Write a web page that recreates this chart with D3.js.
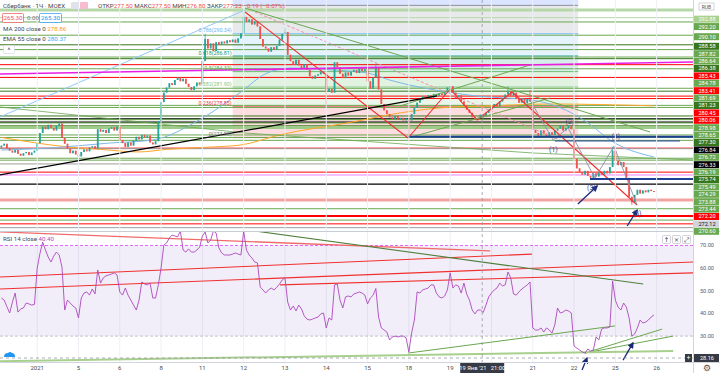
<!DOCTYPE html>
<html>
<head>
<meta charset="utf-8">
<script src="https://cdn.jsdelivr.net/npm/d3@7"></script>
<style>
  body { margin: 0; background: #fff; }
  svg { display: block; font-family: Roboto, "Liberation Sans", sans-serif; }
</style>
</head>
<body>
<svg id="chart"></svg>
<script>
// ---------- data (SBER, 1h, MOEX) ----------
// bar index -> trading day start, label
const dayTicks = [[13, '2021'], [28, '5'], [43, '6'], [58, '8'], [73, '11'], [88, '12'], [103, '13'],
    [118, '14'], [133, '15'], [148, '18'], [163, '19'], [178, '20'], [193, '21'], [208, '22'],
    [223, '25'], [238, '26']];

const firstOpen = 272.3;
const closes = [
    272.6, 272.9, 272.2, 271.8, 271.5, 271.9, 271.3, 271.0, 271.4, 271.6, 271.1, 271.5, 271.8,
    273.0, 274.6, 275.6, 275.2, 275.9, 275.4, 275.0, 275.7, 276.1, 273.8, 272.9, 272.1, 271.4, 271.8, 271.2,
    270.9, 271.6, 272.0, 271.7, 272.3, 272.5, 272.1, 275.2, 274.8, 275.1, 274.6, 275.3, 275.5, 275.0, 275.6,
    273.5, 273.0, 272.4, 273.1, 272.6, 273.4, 274.0, 273.6, 274.3, 273.9, 274.2, 273.1, 272.8, 273.3, 276.5,
    279.5, 281.0, 281.8, 282.5, 282.2, 283.0, 283.4, 282.8, 283.2, 282.4, 281.9, 281.4, 282.0, 282.6, 282.3,
    286.0, 289.5, 288.0, 288.8, 287.6, 289.0, 288.6, 289.1, 288.8, 289.3, 289.0, 289.4, 288.9, 289.6, 290.4,
    293.0, 292.2, 292.6, 291.8, 292.3, 291.5, 289.5, 288.3, 288.0, 287.5, 288.2, 287.8, 288.4, 289.4, 290.3,
    290.6, 287.0, 286.0, 285.4, 286.2, 285.3, 284.8, 285.5, 284.6, 283.6, 283.2, 283.7, 283.9, 284.3, 284.0,
    281.2, 281.6, 281.0, 285.8, 285.0, 284.0, 283.3, 284.2, 283.7, 284.3, 284.6, 284.1, 284.8, 284.4, 284.7,
    282.8, 281.6, 283.4, 285.0, 281.5, 279.2, 278.2, 277.6, 277.1, 276.8, 277.3, 276.7, 277.0, 276.6, 276.9,
    276.6, 277.6, 278.6, 279.4, 279.9, 280.4, 280.1, 280.6, 280.2, 280.8, 280.5, 280.9, 280.6, 281.2, 281.8,
    282.0, 281.0, 280.1, 280.6, 279.6, 279.0, 278.3, 277.8, 277.1, 276.7, 277.0, 277.50, 277.23, 277.8, 278.3,
    278.6, 279.2, 278.8, 279.6, 280.1, 280.7, 281.2, 280.5, 281.0, 280.0, 279.4, 280.0, 279.3, 279.9, 279.6,
    275.1, 274.6, 274.2, 275.0, 274.5, 274.0, 274.7, 274.3, 275.0, 275.3, 275.7, 275.0, 275.4, 275.8, 275.2,
    270.5, 269.0, 268.4, 268.0, 268.6, 267.8, 267.5, 268.2, 267.7, 268.3, 268.0, 268.6, 268.2, 269.2, 271.8,
    270.2, 269.5, 270.0, 269.2, 267.5, 264.5, 263.6, 264.8, 265.6, 265.0, 265.5, 265.2, 265.6, 265.4, 265.3
];
// only the wicks that stand out
const wickHighs = {74: 290.3, 88: 293.8, 103: 291.3, 136: 285.6, 175: 277.5, 184: 282.0, 192: 281.4, 222: 272.4};
const wickLows = {28: 270.4, 118: 279.0, 148: 273.9, 175: 276.8, 229: 263.2};

const rsiValues = [
    46.8, 45.9, 43.0, 40.2, 45.0, 49.0, 40.6, 42.0, 42.4, 44.6, 44.2, 43.7, 44.0,
    60.0, 66.5, 71.5, 68.0, 64.9, 62.7, 65.3, 67.1, 65.8, 60.5, 41.5, 45.9, 44.6, 43.3, 42.4,
    38.0, 46.8, 49.0, 49.5, 48.1, 50.8, 48.6, 59.2, 53.4, 55.7, 56.6, 57.0, 57.4, 57.9, 57.0,
    49.5, 48.1, 51.2, 48.1, 45.9, 43.7, 41.5, 45.9, 53.9, 53.0, 52.6, 53.4, 46.8, 46.8, 52.6,
    60.1, 70.2, 71.1, 73.3, 74.6, 74.2, 73.8, 76.4, 68.0, 67.1, 68.5, 67.1, 67.1, 68.0, 69.3,
    74.2, 76.0, 71.1, 72.4, 76.4, 75.5, 68.9, 66.7, 65.8, 65.8, 65.8, 66.2, 66.7, 66.2, 65.8,
    76.4, 68.0, 65.8, 64.5, 62.7, 62.3, 51.7, 50.4, 49.0, 50.4, 51.2, 50.4, 51.5, 53.0, 54.8,
    55.7, 45.0, 41.5, 43.3, 41.1, 43.7, 42.0, 38.9, 37.5, 37.1, 37.5, 38.0, 38.4, 39.8, 40.2,
    33.6, 38.0, 37.1, 52.6, 53.0, 45.9, 42.4, 47.3, 47.7, 47.3, 48.6, 49.0, 49.5, 49.0, 48.1,
    44.2, 46.8, 48.0, 51.0, 38.4, 33.6, 32.7, 31.8, 28.3, 29.6, 30.0, 29.6, 30.0, 30.0, 29.2,
    23.0, 31.4, 37.1, 49.5, 49.0, 50.4, 50.8, 51.2, 52.6, 52.6, 49.0, 47.3, 46.8, 47.7, 50.4,
    57.9, 51.2, 52.6, 52.1, 49.0, 53.4, 48.6, 45.9, 41.5, 39.8, 41.5, 41.5, 40.4, 43.7, 47.3,
    49.0, 50.4, 51.2, 53.4, 52.1, 52.6, 58.3, 55.7, 48.6, 48.1, 49.5, 50.8, 51.7, 52.6, 53.9,
    33.6, 32.7, 32.7, 33.6, 31.8, 33.6, 32.7, 31.4, 34.9, 42.4, 40.2, 40.6, 41.5, 41.1, 40.2,
    25.6, 24.7, 23.9, 23.0, 22.5, 24.3, 23.4, 23.9, 29.6, 28.3, 33.1, 33.6, 33.6, 34.0, 54.3,
    45.9, 42.8, 41.5, 44.6, 42.8, 38.0, 30.0, 30.9, 33.6, 37.1, 35.8, 36.2, 37.1, 38.4, 39.3
];

// moving averages, read at a few bars
const ma200Points = [[0, 273.9], [24, 272.4], [36, 272.0], [50, 271.6], [60, 272.0], [77, 272.4], [87, 272.7],
    [101, 274.3], [127, 276.3], [145, 277.8], [163, 278.7], [175, 278.86], [199, 279.2], [237, 278.9]];
const ema55Points = [[0, 271.9], [20, 272.3], [39, 273.0], [55, 273.5], [72, 276.7], [87, 281.1], [96, 284.0],
    [105, 284.9], [120, 284.6], [133, 284.1], [141, 283.0], [165, 280.9], [175, 280.37], [181, 280.2],
    [193, 279.8], [207, 277.8], [214, 275.9], [221, 273.5], [237, 270.8]];

// horizontal levels with a price label on the axis
const levelLines = [[292.88, 'lg'], [292.20, 'g'], [290.10, 'g'], [288.58, 'dg'], [287.82, 'g'], [286.64, 'g'],
    [286.38, 'dg'], [285.43, 'r'], [284.78, 'g'], [283.41, 'r'], [281.69, 'g'], [281.23, 'dg'], [280.45, 'r'],
    [280.06, 'r'], [278.98, 'g'], [278.65, 'g'], [277.30, 'dg'], [276.84, 'k'], [276.72, 'g'], [276.33, 'k'],
    [276.19, 'g'], [275.74, 'dg'], [275.49, 'gw'], [274.29, 'g'], [273.88, 'g'], [273.44, 'g'], [272.20, 'r'],
    [272.12, 'gr'], [270.60, 'g']];
// levels without a visible label
const extraLines = [[294.1, 'lgw'], [270.3, 'g'], [269.7, 'gr'], [268.4, 'r'], [267.95, 'm'], [266.5, 'k'],
    [264.0, 'rw'], [262.6, 'g'], [261.45, 'rt'], [260.8, 'g'], [260.2, 'r'], [259.6, 'gr']];

// fib retracement
const fibRatios = [0, 0.236, 0.382, 0.5, 0.618, 0.786, 1, 1.618];
const fibPrices = [273.88, 278.85, 281.90, 284.33, 286.81, 290.34, 294.83, 307.9];
const fibBars = [84, 209.5];

// drawings on price pane: [bar, price] points
const trendLines = [
    {kind: 'red', pts: [[88.5, 293.78], [147.7, 273.81]]},
    {kind: 'red', pts: [[147.7, 273.81], [163, 281.58], [172.8, 276.66], [185.5, 281.10]]},
    {kind: 'red', pts: [[185.5, 281.10], [230.9, 263.19]]},
    {kind: 'pinkDash', pts: [[92.1, 293.78], [202.9, 273.49]]},
    {kind: 'green', pts: [[88.5, 294.41], [235.6, 274.76]]},
    {kind: 'green', pts: [[147.7, 273.81], [199.3, 280.15]]},
    {kind: 'green', pts: [[144.8, 278.88], [193.1, 285.54]]},
    {kind: 'greenThin', pts: [[-0.5, 278.72], [88.5, 274.6], [193.1, 271.43], [251.2, 270.32]]},
    {kind: 'black', pts: [[-0.5, 267.95], [158.2, 280.47]]},
    {kind: 'lightBlue', pts: [[-0.5, 277.14], [88.5, 294.1]]},
    {kind: 'magenta', pts: [[-0.5, 283.95], [251.2, 285.86]]},
    {kind: 'grey', pts: [[192, 279.83], [200.4, 273.49], [205.8, 275.4], [215.6, 267.47], [222.5, 272.5], [230.9, 263.19]]},
    {kind: 'navy', pts: [[147.7, 274.0], [251.2, 274.0]]},
    {kind: 'navyThin', pts: [[201, 273.34], [246.5, 273.34]]},
    {kind: 'navy', pts: [[213.8, 267.31], [251.2, 267.31]]}
];
const priceArrows = [[[209.4, 263.35], [216.4, 266.2]], [[227.3, 259.86], [230.9, 262.4]]];
const waveLabels = [['(1)', 200.5, 272.0], ['(2)', 206.5, 276.5], ['(3)', 214.3, 265.9], ['(4)', 223.2, 274.0], ['(5)', 230.9, 261.9]];

// drawings on RSI pane: [bar, rsi]
const rsiLines = [
    {kind: 'redSoft', pts: [[-0.5, 76.0], [177.5, 67.6]]},
    {kind: 'red', pts: [[-0.5, 56.1], [192.7, 66.2]]},
    {kind: 'red', pts: [[-0.5, 50.8], [251.2, 62.7]]},
    {kind: 'red', pts: [[101.2, 52.6], [251.2, 57.9]]},
    {kind: 'darkGreen', pts: [[92.1, 76.4], [233.1, 53.0]]},
    {kind: 'green', pts: [[147.7, 22.5], [222.9, 34.5]]},
    {kind: 'green', pts: [[212, 22.5], [240, 33.1]]},
    {kind: 'green', pts: [[212, 22.5], [244, 30.0]]},
    {kind: 'greenFaint', pts: [[-0.5, 18.9], [244, 23.4]]}
];
const rsiArrows = [[[210.9, 15.0], [212.7, 20.3]], [[225.8, 19.4], [229.4, 27.0]]];
const rsiTicks = [70, 60, 50, 40, 30];

const crosshairBar = 175;

// ---------- layout ----------
const W = 720, H = 373, plotR = 693;
const priceTop = 0, priceBot = 231, rsiTop = 232, rsiBot = 362;

const svg = d3.select('#chart').attr('width', W).attr('height', H);
const x = d3.scaleLinear().domain([0, 237]).range([1.4, 653.9]);
const py = d3.scaleLinear().domain([259.07, 295.68]).range([priceBot, priceTop]);
const ry = d3.scaleLinear().domain([18.56, 75.96]).range([rsiBot, rsiTop]);

const defs = svg.append('defs');
defs.append('clipPath').attr('id', 'clipPrice').append('rect')
    .attr('x', 0).attr('y', priceTop).attr('width', plotR).attr('height', priceBot - priceTop);
defs.append('clipPath').attr('id', 'clipRsi').append('rect')
    .attr('x', 0).attr('y', rsiTop).attr('width', plotR).attr('height', rsiBot - rsiTop);
defs.append('marker').attr('id', 'arrow').attr('viewBox', '0 0 10 10')
    .attr('refX', 8).attr('refY', 5).attr('markerWidth', 5).attr('markerHeight', 5)
    .attr('orient', 'auto')
    .append('path').attr('d', 'M0,0 L10,5 L0,10 Z').attr('fill', '#1a2a7a');

const lineStyles = {
    g: {stroke: '#6aa84f', w: 1, label: '#6aa84f'},
    dg: {stroke: '#38761d', w: 1, label: '#38761d'},
    r: {stroke: '#ff0000', w: 1, label: '#ff0000'},
    k: {stroke: '#000000', w: 1.3, label: '#000000'},
    gr: {stroke: '#9e9e9e', w: 1, label: '#d1d4dc', text: '#131722'},
    gw: {stroke: '#9fcb8a', w: 3, label: '#6aa84f'},
    lg: {stroke: '#b6d7a8', w: 1, label: '#a9d18e'},
    lgw: {stroke: '#b6d7a8', w: 3},
    m: {stroke: '#ea80fc', w: 1},
    rw: {stroke: '#f4a3a3', w: 3},
    rt: {stroke: '#ff0000', w: 2}
};
const drawStyles = {
    red: {stroke: '#f0302e', w: 1.1},
    redSoft: {stroke: '#ef6b6b', w: 1.3},
    pinkDash: {stroke: '#f48fb1', w: 1, dash: '3 2'},
    green: {stroke: '#6aa84f', w: 1},
    darkGreen: {stroke: '#4f7f3a', w: 1.1},
    greenThin: {stroke: '#6aa84f', w: 0.8},
    greenFaint: {stroke: '#a8d08d', w: 2},
    black: {stroke: '#000000', w: 1.3},
    lightBlue: {stroke: '#90caf9', w: 1},
    magenta: {stroke: '#e91ee6', w: 1.6},
    grey: {stroke: '#8a8fa8', w: 0.9},
    navy: {stroke: '#1c3f94', w: 2},
    navyThin: {stroke: '#1c3f94', w: 1}
};
const fibColors = ['#787b86', '#f23645', '#81c784', '#4caf50', '#089981', '#64b5f6', '#787b86', '#2962ff'];

// ---------- price pane ----------
const price = svg.append('g').attr('clip-path', 'url(#clipPrice)');

// fib zones behind everything
fibPrices.slice(0, -1).forEach((p, k) => {
    const hi = fibPrices[k + 1];
    price.append('rect')
        .attr('x', x(fibBars[0])).attr('width', x(fibBars[1]) - x(fibBars[0]))
        .attr('y', py(hi)).attr('height', py(p) - py(hi))
        .attr('fill', fibColors[k + 1]).attr('fill-opacity', 0.17);
});

// day grid
const grid = svg.append('g');
dayTicks.forEach(([b]) => {
    grid.append('line').attr('x1', x(b)).attr('x2', x(b)).attr('y1', 0).attr('y2', rsiBot)
        .attr('stroke', '#eef0f5').attr('stroke-width', 1);
});

// fib level lines
fibPrices.forEach((p, k) => {
    price.append('line').attr('x1', x(fibBars[0])).attr('x2', x(fibBars[1]))
        .attr('y1', py(p)).attr('y2', py(p)).attr('stroke', fibColors[k]).attr('stroke-width', 0.8);
});

// horizontal levels
[...extraLines, ...levelLines].forEach(([p, kind]) => {
    const s = lineStyles[kind];
    price.append('line').attr('x1', 0).attr('x2', plotR).attr('y1', py(p)).attr('y2', py(p))
        .attr('stroke', s.stroke).attr('stroke-width', s.w);
});

// moving averages
const maLine = d3.line().x(d => x(d[0])).y(d => py(d[1])).curve(d3.curveMonotoneX);
price.append('path').attr('d', maLine(ma200Points)).attr('fill', 'none')
    .attr('stroke', '#ffa726').attr('stroke-width', 1);
price.append('path').attr('d', maLine(ema55Points)).attr('fill', 'none')
    .attr('stroke', '#7cb9e8').attr('stroke-width', 1);

// candles
const candles = closes.map((c, i) => {
    const o = i ? closes[i - 1] : firstOpen;
    return {
        i, o, c,
        h: Math.max(o, c, wickHighs[i] ?? -Infinity),
        l: Math.min(o, c, wickLows[i] ?? Infinity)
    };
});
const cg = price.append('g');
candles.forEach(d => {
    const col = d.c >= d.o ? '#26a69a' : '#ef5350';
    cg.append('line').attr('x1', x(d.i)).attr('x2', x(d.i)).attr('y1', py(d.h)).attr('y2', py(d.l))
        .attr('stroke', col).attr('stroke-width', 0.8);
    const top = py(Math.max(d.o, d.c));
    cg.append('rect').attr('x', x(d.i) - 0.9).attr('width', 1.8)
        .attr('y', top).attr('height', Math.max(1, py(Math.min(d.o, d.c)) - top)).attr('fill', col);
});

// trend drawings
const drawLine = d3.line().x(d => x(d[0])).y(d => py(d[1]));
trendLines.forEach(t => {
    const s = drawStyles[t.kind];
    price.append('path').attr('d', drawLine(t.pts)).attr('fill', 'none')
        .attr('stroke', s.stroke).attr('stroke-width', s.w).attr('stroke-dasharray', s.dash || null);
});
priceArrows.forEach(a => {
    price.append('path').attr('d', drawLine(a)).attr('stroke', '#1a2a7a').attr('stroke-width', 1.3)
        .attr('marker-end', 'url(#arrow)');
});
waveLabels.forEach(([t, b, p]) => {
    price.append('text').attr('x', x(b)).attr('y', py(p) + 2.5).attr('text-anchor', 'middle')
        .attr('font-size', 7).attr('fill', '#3f4a8a').text(t);
});

// fib labels, left of the zones
fibRatios.slice(0, 6).forEach((r, k) => {
    price.append('text').attr('x', x(fibBars[0]) - 1).attr('y', py(fibPrices[k]) - 1.2)
        .attr('text-anchor', 'end').attr('font-size', 5.3).attr('fill', fibColors[k])
        .text(`${r}(${fibPrices[k].toFixed(2)})`);
});

// ---------- RSI pane ----------
const rsi = svg.append('g').attr('clip-path', 'url(#clipRsi)');
rsi.append('rect').attr('x', 0).attr('width', plotR).attr('y', ry(70)).attr('height', ry(30) - ry(70))
    .attr('fill', '#7e57c2').attr('fill-opacity', 0.1);
rsi.append('line').attr('x1', 0).attr('x2', plotR).attr('y1', ry(70)).attr('y2', ry(70))
    .attr('stroke', '#e040fb').attr('stroke-dasharray', '3 2').attr('stroke-width', 0.8);
rsi.append('line').attr('x1', 0).attr('x2', plotR).attr('y1', ry(30)).attr('y2', ry(30))
    .attr('stroke', '#b2b5be').attr('stroke-dasharray', '3 2').attr('stroke-width', 0.8);

const rsiDraw = d3.line().x(d => x(d[0])).y(d => ry(d[1]));
rsiLines.forEach(t => {
    const s = drawStyles[t.kind];
    rsi.append('path').attr('d', rsiDraw(t.pts)).attr('fill', 'none')
        .attr('stroke', s.stroke).attr('stroke-width', s.w);
});
rsi.append('path').attr('d', d3.line().x((d, i) => x(i)).y(d => ry(d))(rsiValues))
    .attr('fill', 'none').attr('stroke', '#ab47bc').attr('stroke-width', 0.9);

svg.append('g').selectAll('path').data(rsiArrows).join('path')
    .attr('d', d => rsiDraw(d)).attr('stroke', '#1a2a7a').attr('stroke-width', 1.3)
    .attr('marker-end', 'url(#arrow)');

// crosshair
const cx = x(crosshairBar) - 1;
svg.append('line').attr('x1', cx).attr('x2', cx).attr('y1', 0).attr('y2', rsiBot)
    .attr('stroke', '#9598a1').attr('stroke-dasharray', '3 3').attr('stroke-width', 0.8);
svg.append('line').attr('x1', 0).attr('x2', plotR).attr('y1', rsiBot - 4).attr('y2', rsiBot - 4)
    .attr('stroke', '#9598a1').attr('stroke-dasharray', '3 3').attr('stroke-width', 0.8);

// ---------- frames & axes ----------
svg.append('line').attr('x1', 0).attr('x2', W).attr('y1', rsiTop - 0.5).attr('y2', rsiTop - 0.5)
    .attr('stroke', '#c9ccd3');
svg.append('line').attr('x1', 0).attr('x2', W).attr('y1', rsiBot + 0.5).attr('y2', rsiBot + 0.5)
    .attr('stroke', '#d1d4dc');
svg.append('line').attr('x1', plotR + 0.5).attr('x2', plotR + 0.5).attr('y1', 0).attr('y2', H)
    .attr('stroke', '#d1d4dc');

// price labels, stacked downward when they collide
const axis = svg.append('g').attr('font-size', 5.6);
let prevY = -Infinity;
[...levelLines].sort((a, b) => b[0] - a[0]).forEach(([p, kind]) => {
    const s = lineStyles[kind];
    const yy = Math.max(py(p) + 1.5, prevY + 7.4);
    prevY = yy;
    axis.append('rect').attr('x', plotR + 1).attr('y', yy - 3.5).attr('width', W - plotR - 2).attr('height', 7)
        .attr('fill', s.label);
    axis.append('text').attr('x', plotR + 14).attr('y', yy + 2).attr('text-anchor', 'middle')
        .attr('fill', s.text || '#fff').text(p.toFixed(2));
});
axis.append('rect').attr('x', 699).attr('y', 3).attr('width', 15).attr('height', 7)
    .attr('fill', '#fff').attr('stroke', '#b2b5be').attr('stroke-width', 0.6);
axis.append('text').attr('x', 706.5).attr('y', 8.5).attr('text-anchor', 'middle')
    .attr('font-size', 5).attr('fill', '#555').text('RUB');

// rsi axis
rsiTicks.forEach(v => {
    axis.append('text').attr('x', plotR + 14).attr('y', ry(v) + 2).attr('text-anchor', 'middle')
        .attr('fill', '#5d606b').text(v.toFixed(2));
});
axis.append('rect').attr('x', plotR + 1).attr('y', rsiBot - 8).attr('width', W - plotR - 2).attr('height', 8)
    .attr('fill', '#363a45');
axis.append('text').attr('x', plotR + 14).attr('y', rsiBot - 2).attr('text-anchor', 'middle')
    .attr('fill', '#fff').text('28.16');
axis.append('rect').attr('x', 685).attr('y', rsiBot - 8).attr('width', 7).attr('height', 8)
    .attr('fill', '#363a45');
axis.append('text').attr('x', 688.5).attr('y', rsiBot - 2).attr('text-anchor', 'middle')
    .attr('fill', '#fff').attr('font-size', 7).text('+');

// time axis; the crosshair label hides the tick it sits on
const tAxis = svg.append('g').attr('font-size', 6).attr('fill', '#4a4a4a').attr('text-anchor', 'middle');
const tipHalf = 22;
dayTicks.filter(([b]) => Math.abs(x(b) - cx) > tipHalf + 2)
    .forEach(([b, t]) => tAxis.append('text').attr('x', x(b)).attr('y', 370).text(t));
tAxis.append('rect').attr('x', cx - tipHalf).attr('y', rsiBot + 1).attr('width', tipHalf * 2).attr('height', 10)
    .attr('fill', '#363a45');
tAxis.append('text').attr('x', cx).attr('y', 369.5).attr('fill', '#fff').attr('font-size', 5.8)
    .attr('xml:space', 'preserve').text("19 Янв '21   21:00");
svg.append('text').attr('x', 707).attr('y', 371).attr('text-anchor', 'middle')
    .attr('font-size', 9).attr('fill', '#555').attr('font-family', 'DejaVu Sans').text('⚙');
svg.append('path').attr('d', 'M4,357 q0,-4 4,-4 q2,-2 4,0 q3,0 3,4 z').attr('fill', '#2196f3');

// ---------- legends ----------
const leg = svg.append('g').attr('font-size', 6.2).attr('fill', '#434651');
leg.append('text').attr('x', 3).attr('y', 8).text('Сбербанк · 1Ч · MOEX');
leg.append('rect').attr('x', 71).attr('y', 2).attr('width', 8).attr('height', 7).attr('rx', 1).attr('fill', '#e0e3eb');
leg.append('rect').attr('x', 80).attr('y', 2).attr('width', 8).attr('height', 7).attr('rx', 1).attr('fill', '#f8bbd0');
const ohlc = leg.append('text').attr('x', 98).attr('y', 8);
[['ОТКР', '277.50'], [' МАКС', '277.50'], [' МИН', '276.80'], [' ЗАКР', '277.23']].forEach(([k, v]) => {
    ohlc.append('tspan').text(k);
    ohlc.append('tspan').attr('fill', '#ef5350').text(v);
});
ohlc.append('tspan').attr('fill', '#ef5350').text(' −0.19 (−0.07%)');

leg.append('rect').attr('x', 2.5).attr('y', 13.5).attr('width', 21).attr('height', 9).attr('rx', 1)
    .attr('fill', '#fff').attr('stroke', '#ef5350').attr('stroke-width', 0.7);
leg.append('text').attr('x', 13).attr('y', 20).attr('text-anchor', 'middle').attr('fill', '#ef5350').text('265.30');
leg.append('text').attr('x', 27).attr('y', 20).attr('fill', '#787b86').text('0.00');
leg.append('rect').attr('x', 39.5).attr('y', 13.5).attr('width', 22).attr('height', 9).attr('rx', 1)
    .attr('fill', '#fff').attr('stroke', '#2196f3').attr('stroke-width', 0.7);
leg.append('text').attr('x', 50.5).attr('y', 20).attr('text-anchor', 'middle').attr('fill', '#2196f3').text('265.30');

const maLeg = leg.append('text').attr('x', 3).attr('y', 31);
maLeg.append('tspan').text('MA 200 close 0 ');
maLeg.append('tspan').attr('fill', '#ff9800').text('278.86');
const emaLeg = leg.append('text').attr('x', 3).attr('y', 41);
emaLeg.append('tspan').text('EMA 55 close 0 ');
emaLeg.append('tspan').attr('fill', '#42a5f5').text('280.37');
leg.append('rect').attr('x', 3.5).attr('y', 45.5).attr('width', 11).attr('height', 8).attr('rx', 1)
    .attr('fill', '#fff').attr('stroke', '#d1d4dc').attr('stroke-width', 0.6);
leg.append('text').attr('x', 9).attr('y', 52.5).attr('text-anchor', 'middle').attr('font-size', 7).text('^');

const rsiLeg = leg.append('text').attr('x', 3).attr('y', 241);
rsiLeg.append('tspan').text('RSI 14 close ');
rsiLeg.append('tspan').attr('fill', '#ab47bc').text('40.40');

// pane buttons
['↑', '×', '⤢'].forEach((t, k) => {
    leg.append('rect').attr('x', 662.5 + k * 10).attr('y', 235.5).attr('width', 8).attr('height', 8).attr('rx', 1)
        .attr('fill', '#fff').attr('stroke', '#b2b5be').attr('stroke-width', 0.6);
    leg.append('text').attr('x', 666.5 + k * 10).attr('y', 242).attr('text-anchor', 'middle')
        .attr('font-size', 6.5).attr('font-family', 'DejaVu Sans').text(t);
});
</script>
</body>
</html>
